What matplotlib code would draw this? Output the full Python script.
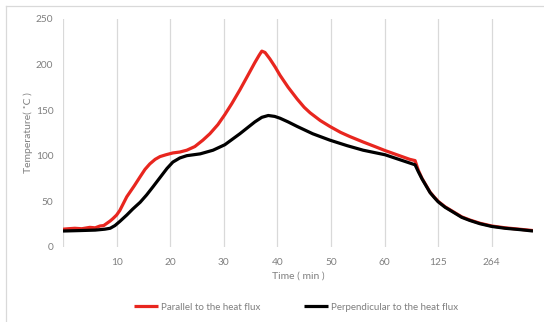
import matplotlib
matplotlib.use("Agg")
import matplotlib.pyplot as plt
from matplotlib.lines import Line2D

# ---- data (x = position on the category axis, 1 unit = one labelled tick) ----
tick_labels = ['10', '20', '30', '40', '50', '60', '125', '264']

pos_parallel = [0.00, 0.10, 0.22, 0.35, 0.50, 0.60, 0.69, 0.76, 0.82, 0.88, 0.93, 1.00,
                1.06, 1.19, 1.33, 1.44, 1.53, 1.62, 1.72, 1.81, 1.92, 2.05, 2.18, 2.31,
                2.46, 2.61, 2.74, 2.89, 3.02, 3.15, 3.30, 3.45, 3.58, 3.66, 3.71, 3.77,
                3.86, 3.96, 4.05, 4.20, 4.37, 4.50, 4.61, 4.80, 4.98, 5.18, 5.35, 5.60,
                5.82, 6.01, 6.23, 6.47, 6.57, 6.63, 6.70, 6.78, 6.85, 6.93, 7.00, 7.13,
                7.28, 7.44, 7.59, 7.78, 8.00, 8.25, 8.53, 8.77]
temp_parallel = [19.5, 20.0, 20.5, 20.0, 21.5, 21.0, 23.0, 23.5, 26.0, 28.5, 31.0, 35.0,
                 40.0, 55.0, 67.0, 77.0, 85.0, 91.0, 96.0, 99.0, 101.0, 103.0, 104.0, 106.0,
                 110.0, 117.0, 124.0, 134.0, 145.0, 157.0, 172.0, 188.0, 202.0, 210.0, 214.5, 213.0,
                 206.0, 197.0, 188.0, 175.0, 162.0, 153.0, 147.0, 138.5, 132.0, 125.5, 121.0, 115.0,
                 110.0, 105.6, 101.0, 96.0, 94.6, 84.0, 75.0, 67.0, 60.0, 54.5, 50.0, 44.0,
                 38.7, 33.0, 29.6, 26.0, 23.0, 21.0, 19.4, 18.0]

pos_perpendicular = [0.00, 0.32, 0.60, 0.78, 0.88, 0.97, 1.06, 1.19, 1.30, 1.44, 1.56, 1.68,
                     1.81, 1.94, 2.05, 2.18, 2.31, 2.56, 2.80, 3.02, 3.30, 3.58, 3.71, 3.83,
                     3.95, 4.05, 4.20, 4.37, 4.66, 4.98, 5.30, 5.60, 6.01, 6.29, 6.57, 6.63,
                     6.70, 6.78, 6.85, 6.93, 7.00, 7.13, 7.28, 7.44, 7.59, 7.78, 8.00, 8.25,
                     8.53, 8.77]
temp_perpendicular = [17.5, 18.0, 18.5, 19.5, 20.5, 23.5, 28.0, 35.0, 41.5, 49.0, 57.0, 66.0,
                      76.0, 86.0, 93.0, 97.5, 100.0, 102.0, 106.0, 112.0, 124.0, 137.0, 142.0, 144.0,
                      143.0, 141.0, 137.0, 132.0, 124.0, 117.0, 111.0, 106.0, 101.0, 95.5, 90.0, 82.5,
                      74.5, 66.5, 59.5, 54.0, 49.5, 43.5, 38.2, 32.5, 29.1, 25.5, 22.5, 20.5,
                      19.0, 17.5]

labels = ['Parallel to the heat flux', 'Perpendicular to the heat flux']
colors = ['#e8261f', '#000000']

# ---- figure ----
plt.rcParams['font.family'] = ['Lato', 'DejaVu Sans']
W, H = 544, 322
fig = plt.figure(figsize=(W / 100, H / 100), dpi=100)
ax = fig.add_axes([63 / W, 1 - 247 / H, (533 - 63) / W, (247 - 18.7) / H])

ax.plot(pos_parallel, temp_parallel, color=colors[0], lw=2.3, solid_joinstyle='round',
        solid_capstyle='butt', label=labels[0], zorder=3)
ax.plot(pos_perpendicular, temp_perpendicular, color=colors[1], lw=2.3, solid_joinstyle='round',
        solid_capstyle='butt', label=labels[1], zorder=4)

ax.set_xlim(0, 8.77)
ax.set_ylim(0, 250)
ax.set_xticks(range(1, len(tick_labels) + 1))
ax.set_xticklabels(tick_labels)
ax.set_yticks([0, 50, 100, 150, 200, 250])
for k in range(0, len(tick_labels) + 1):
    ax.axvline(k, color='#d9d9d9', lw=0.9, zorder=1)
for s in ax.spines.values():
    s.set_visible(False)
ax.tick_params(axis='both', length=0, labelsize=7.3, labelcolor='#7f7f7f')
ax.tick_params(axis='x', pad=8)
ax.tick_params(axis='y', pad=7)
ax.set_xlabel('Time ( min )', fontsize=7.5, color='#7f7f7f', labelpad=3)
ax.set_ylabel('Temperature( ˚C )', fontsize=7.5, color='#7f7f7f', labelpad=2)

fig.legend(loc='center', bbox_to_anchor=(296 / W, 1 - 307 / H), ncol=2, frameon=False,
           fontsize=7, handlelength=2.5, handletextpad=0.3, columnspacing=4.5,
           labelcolor='#7f7f7f')

# chart-area border (left & top visible)
fig.add_artist(Line2D([5.5 / W, 5.5 / W], [0, 1 - 5.5 / H], color='#d9d9d9', lw=0.9))
fig.add_artist(Line2D([5.5 / W, 1], [1 - 5.5 / H, 1 - 5.5 / H], color='#d9d9d9', lw=0.9))

fig.savefig('out.png', dpi=100)
